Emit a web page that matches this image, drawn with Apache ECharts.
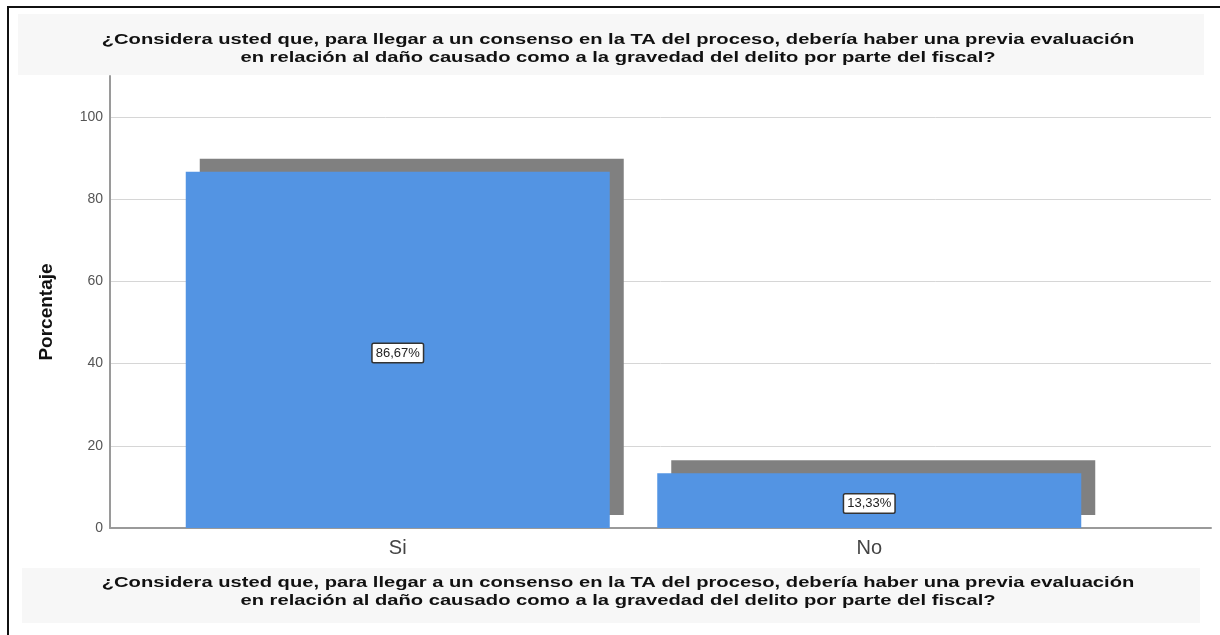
<html>
    <head>
        <meta charset='utf-8'>
        <script src='https://cdn.jsdelivr.net/npm/echarts@6/dist/echarts.min.js'></script>
    </head>
    <body>
        <style>
            html, body, #main {
                width: 100%;
                height: 100%;
                margin: 0;
                background: #fff;
            }
        </style>
        <div id='main'></div>
        <script>

            var categories = ['Si', 'No'];
            var percentages = [86.67, 13.33];
            var yTicks = [0, 20, 40, 60, 80, 100];
            var questionText = '¿Considera usted que, para llegar a un consenso en la TA del proceso, debería haber una previa evaluación\nen relación al daño causado como a la gravedad del delito por parte del fiscal?';
            var yAxisName = 'Porcentaje';

            var chart = echarts.init(document.getElementById('main'));

            var font = '"Liberation Sans", Arial, sans-serif';

            var option = {
                backgroundColor: '#fff',
                animation: false,
                graphic: [
                    // frame + light header / footer bands
                    { type: 'rect', shape: { x: 8, y: 7, width: 1230, height: 640 },
                      style: { fill: 'none', stroke: '#111', lineWidth: 2 }, silent: true },
                    { type: 'rect', shape: { x: 18, y: 14, width: 1186, height: 61 },
                      style: { fill: '#f7f7f7' }, silent: true },
                    { type: 'rect', shape: { x: 22, y: 568, width: 1178, height: 55 },
                      style: { fill: '#f7f7f7' }, silent: true },
                    // the source text is stretched sideways, hence the scale
                    { type: 'text', x: 618, y: 49, scaleX: 1.26, scaleY: 0.95,
                      style: { text: questionText, textAlign: 'center', textVerticalAlign: 'middle',
                               font: 'bold 16px ' + font, fill: '#111', lineHeight: 19 } },
                    { type: 'text', x: 618, y: 592, scaleX: 1.26, scaleY: 0.95,
                      style: { text: questionText, textAlign: 'center', textVerticalAlign: 'middle',
                               font: 'bold 16px ' + font, fill: '#111', lineHeight: 19 } }
                ],
                grid: [
                    { left: 110, right: 9, top: 76, bottom: 107 },
                    { left: 162, right: 115, top: 76, bottom: 107 }
                ],
                xAxis: [{
                    gridIndex: 0,
                    type: 'category',
                    data: [''],
                    axisLine: { lineStyle: { color: '#9a9a9a', width: 2 } },
                    axisTick: { show: false },
                    axisLabel: { show: false }
                }, {
                    gridIndex: 1,
                    type: 'category',
                    data: categories,
                    axisLine: { show: false },
                    axisTick: { show: false },
                    axisLabel: { fontSize: 20, color: '#444', margin: 10, fontFamily: font }
                }],
                yAxis: [{
                    gridIndex: 0,
                    type: 'value',
                    min: 0,
                    max: 110,
                    interval: 20,
                    name: yAxisName,
                    nameLocation: 'middle',
                    nameGap: 54,
                    nameTextStyle: { fontSize: 19, fontWeight: 'bold', color: '#111', fontFamily: font,
                                     padding: [0, 20, 0, 0] },
                    axisLine: { show: true, lineStyle: { color: '#9a9a9a', width: 2 } },
                    axisTick: { show: false },
                    axisLabel: {
                        color: '#555', fontSize: 14, margin: 7, fontFamily: font,
                        showMaxLabel: false,
                        formatter: function (v) { return yTicks.indexOf(v) >= 0 ? String(v) : ''; }
                    },
                    splitLine: { lineStyle: { color: '#d6d6d6', width: 1 }, showMaxLine: false }
                }, {
                    gridIndex: 1,
                    type: 'value',
                    min: 0,
                    max: 110,
                    show: false,
                    splitLine: { show: false }
                }],
                series: [{
                    type: 'bar',
                    xAxisIndex: 1,
                    yAxisIndex: 1,
                    data: percentages,
                    barWidth: 424,
                    itemStyle: {
                        color: '#5394e3',
                        shadowColor: '#808080',
                        shadowBlur: 0,
                        shadowOffsetX: 14,
                        shadowOffsetY: -13
                    },
                    label: {
                        show: true,
                        position: 'inside',
                        offset: [0, 3],
                        formatter: function (p) { return p.value.toFixed(2).replace('.', ',') + '%'; },
                        fontSize: 13,
                        fontFamily: font,
                        color: '#222',
                        backgroundColor: '#fff',
                        borderColor: '#333',
                        borderWidth: 1.5,
                        borderRadius: 1,
                        padding: [3, 3, 2, 3]
                    }
                }]
            };

            chart.setOption(option);

        </script>
    </body>
</html>
